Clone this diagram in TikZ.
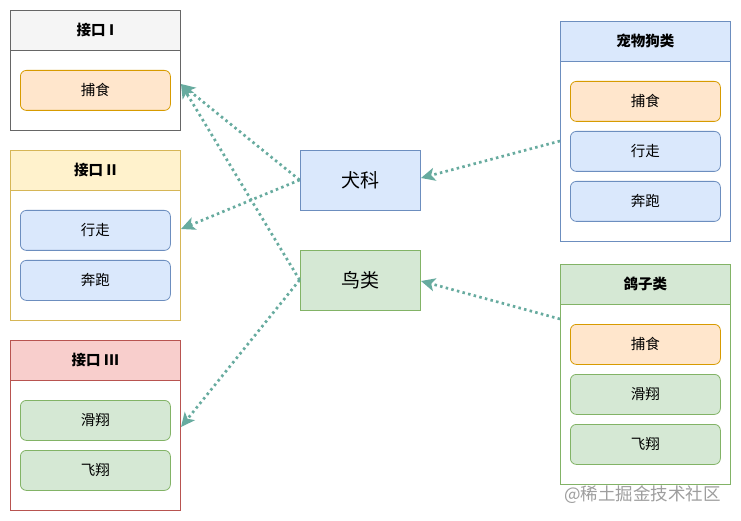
\documentclass[tikz,border=0pt]{standalone}
\usepackage{fontspec}
\setmainfont{Noto Sans CJK SC}
\usetikzlibrary{arrows.meta}
\definecolor{grayF}{HTML}{F5F5F5}\definecolor{grayS}{HTML}{666666}
\definecolor{yelF}{HTML}{FFF2CC}\definecolor{yelS}{HTML}{D6B656}
\definecolor{redF}{HTML}{F8CECC}\definecolor{redS}{HTML}{B85450}
\definecolor{bluF}{HTML}{DAE8FC}\definecolor{bluS}{HTML}{6C8EBF}
\definecolor{grnF}{HTML}{D5E8D4}\definecolor{grnS}{HTML}{82B366}
\definecolor{orgF}{HTML}{FFE6CC}\definecolor{orgS}{HTML}{D79B00}
\definecolor{arrC}{HTML}{67AB9F}
\tikzset{
  frame/.style={draw=#1, fill=white, line width=0.8pt, minimum width=170pt, anchor=north west, inner sep=0pt},
  head/.style={draw=#1, line width=0.8pt, minimum width=170pt, minimum height=40pt, anchor=north west, inner sep=0pt, font=\fontsize{14.5}{16}\selectfont\bfseries},
  item/.style={draw=#1, rounded corners=6pt, line width=0.8pt, minimum width=150pt, minimum height=40pt, anchor=north west, inner sep=0pt, font=\fontsize{14.5}{16}\selectfont},
  mid/.style={draw=#1, line width=0.8pt, minimum width=120pt, minimum height=60pt, inner sep=0pt, font=\fontsize{19}{20}\selectfont},
  arr/.style={draw=arrC, line width=2.7pt, dash pattern=on 2.5pt off 3.3pt, -{Stealth[length=14pt,width=13pt,inset=3.5pt,sep=0pt]}},
}
\begin{document}
\begin{tikzpicture}[x=1pt,y=-1pt]
\useasboundingbox (0,0) rectangle (741,521);
\fill[white] (0,0) rectangle (741,521);
% Interface I
\node[frame=grayS, minimum height=120pt] (i1) at (10,10) {};
\node[head=grayS, fill=grayF] (i1h) at (10,10) {接口 I};
\node[item=orgS, fill=orgF] (i1a) at (20,70) {捕食};
% Interface II
\node[frame=yelS, minimum height=170pt] (i2) at (10,150) {};
\node[head=yelS, fill=yelF] (i2h) at (10,150) {接口 II};
\node[item=bluS, fill=bluF] (i2a) at (20,210) {行走};
\node[item=bluS, fill=bluF] (i2b) at (20,260) {奔跑};
% Interface III
\node[frame=redS, minimum height=170pt] (i3) at (10,340) {};
\node[head=redS, fill=redF] (i3h) at (10,340) {接口 III};
\node[item=grnS, fill=grnF] (i3a) at (20,400) {滑翔};
\node[item=grnS, fill=grnF] (i3b) at (20,450) {飞翔};
% middle
\node[mid=bluS, fill=bluF] (dog) at (360,180) {犬科};
\node[mid=grnS, fill=grnF] (bird) at (360,280) {鸟类};
% Pet dog
\node[frame=bluS, minimum height=220pt] (pd) at (560,21) {};
\node[head=bluS, fill=bluF] (pdh) at (560,21) {宠物狗类};
\node[item=orgS, fill=orgF] (pda) at (570,81) {捕食};
\node[item=bluS, fill=bluF] (pdb) at (570,131) {行走};
\node[item=bluS, fill=bluF] (pdc) at (570,181) {奔跑};
% Pigeon
\node[frame=grnS, minimum height=220pt] (pg) at (560,264) {};
\node[head=grnS, fill=grnF] (pgh) at (560,264) {鸽子类};
\node[item=orgS, fill=orgF] (pga) at (570,324) {捕食};
\node[item=grnS, fill=grnF] (pgb) at (570,374) {滑翔};
\node[item=grnS, fill=grnF] (pgc) at (570,424) {飞翔};
% arrow end points
\coordinate (t1) at (181,84);
\coordinate (t2) at (181,229);
\coordinate (t3) at (181,427);
\coordinate (s4) at (560,141);
\coordinate (t4) at (421,178);
\coordinate (s5) at (560,319);
\coordinate (t5) at (421,281);
\draw[arr] (dog.west) -- (t1);
\draw[arr] (dog.west) -- (t2);
\draw[arr] (bird.west) -- (t1);
\draw[arr] (bird.west) -- (t3);
\draw[arr] (s4) -- (t4);
\draw[arr] (s5) -- (t5);
% watermark
\node[anchor=west, text=black!38, font=\fontsize{17.5}{19}\selectfont, inner sep=0pt] (wm) at (564,495) {@稀土掘金技术社区};
\end{tikzpicture}
\end{document}
